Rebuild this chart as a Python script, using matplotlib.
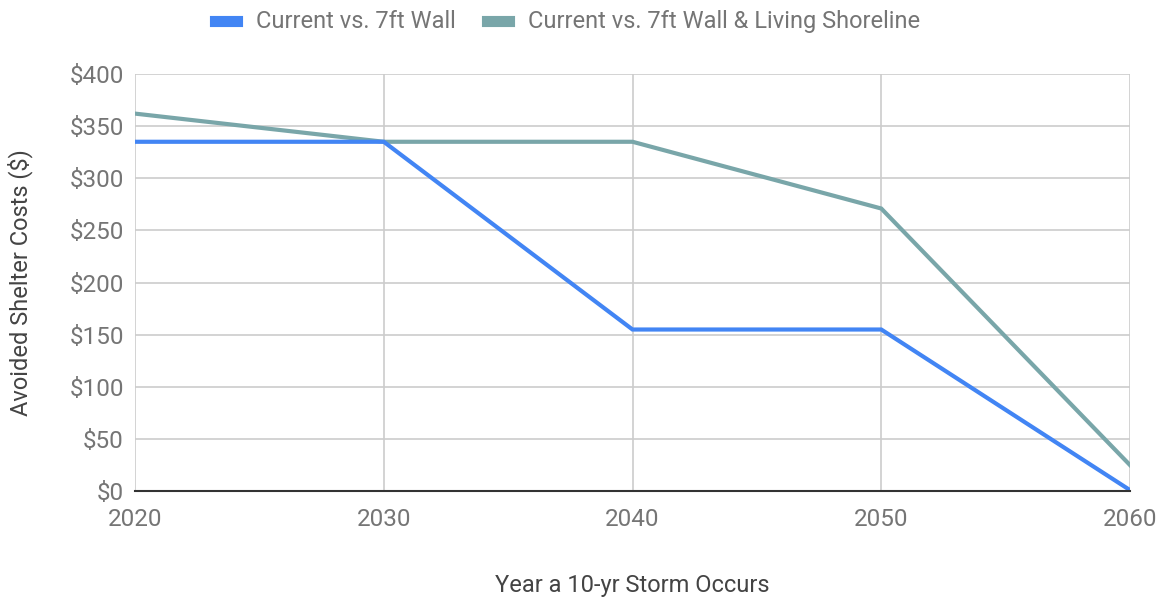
import matplotlib.pyplot as plt
from matplotlib.ticker import FuncFormatter

plt.rcParams['font.family'] = ['Roboto', 'DejaVu Sans']

years = [2020, 2030, 2040, 2050, 2060]
wall = [335, 335, 155, 155, 1]
wall_shoreline = [362, 335, 335, 271, 25]
series_names = ['Current vs. 7ft Wall', 'Current vs. 7ft Wall & Living Shoreline']
colors = ['#4285f4', '#79a6a9']

fig = plt.figure(figsize=(11.64, 5.99), dpi=100)
ax = fig.add_axes([0.116, 0.18, 0.8548, 0.6965])

ax.plot(years, wall, color=colors[0], lw=3, label=series_names[0], solid_joinstyle='miter', zorder=3)
ax.plot(years, wall_shoreline, color=colors[1], lw=3, label=series_names[1], solid_joinstyle='miter', zorder=2)

ax.set_xlim(2020, 2060)
ax.set_ylim(0, 400)
ax.set_xticks(years)
ax.set_yticks(range(0, 401, 50))
ax.yaxis.set_major_formatter(FuncFormatter(lambda v, p: f'${int(v)}'))
ax.grid(True, color='#cccccc', lw=1.2)
ax.set_axisbelow(True)
for side in ['top', 'right', 'left']:
    ax.spines[side].set_visible(False)
ax.spines['bottom'].set_color('#333333')
ax.spines['bottom'].set_linewidth(1.5)
ax.spines['bottom'].set_zorder(4)
ax.tick_params(length=0, labelsize=17.5, labelcolor='#757575', pad=8)
ax.tick_params(axis='x', pad=12)

ax.set_xlabel('Year a 10-yr Storm Occurs', fontsize=17, color='#444444', labelpad=31)
ax.set_ylabel('Avoided Shelter Costs ($)', fontsize=17, color='#444444', labelpad=26)

fig.legend(loc='upper center', bbox_to_anchor=(0.4875, 1.018), ncol=2, frameon=False,
           fontsize=17, labelcolor='#757575', handlelength=0.95, handleheight=0.5,
           columnspacing=1.3, handletextpad=0.8)
for h in fig.legends[0].legend_handles:
    h.set_linewidth(8)

fig.savefig('out.png', dpi=100)
